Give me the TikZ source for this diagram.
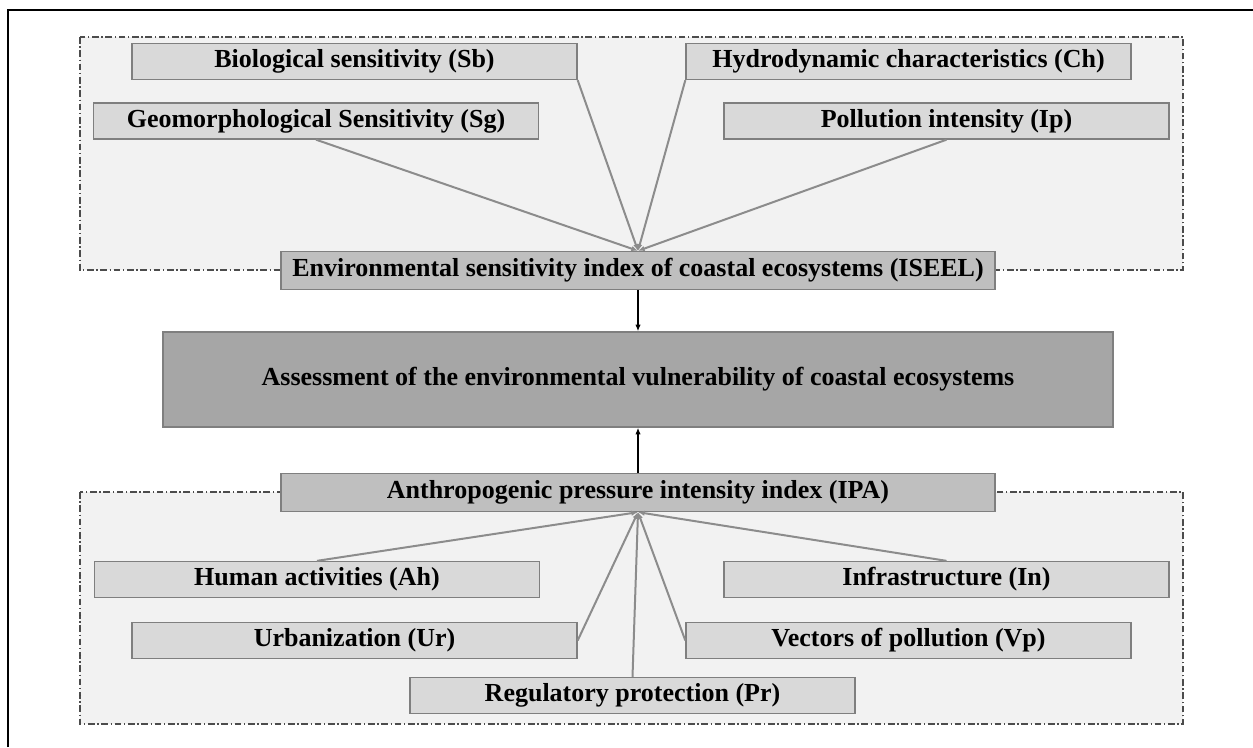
\documentclass[tikz,border=0pt]{standalone}
\usepackage{fontspec}
\setmainfont{Liberation Serif}
\usetikzlibrary{arrows.meta}

\definecolor{framegray}{HTML}{F2F2F2}
\definecolor{factorgray}{HTML}{D9D9D9}
\definecolor{indexgray}{HTML}{BFBFBF}
\definecolor{assessgray}{HTML}{A6A6A6}
\definecolor{edgegray}{HTML}{7F7F7F}
\definecolor{linkgray}{HTML}{8C8C8C}

\tikzset{
  factor/.style={draw=edgegray, line width=1pt, fill=factorgray, inner sep=0pt,
    minimum width=333.75pt, minimum height=27pt,
    font=\bfseries\fontsize{19.5}{22}\selectfont},
  indexbox/.style={factor, fill=indexgray, minimum width=535.5pt, minimum height=28.5pt},
  groupbox/.style={draw=black!70, fill=framegray, line width=0.8pt,
    dash pattern=on 5pt off 2pt on 1pt off 2pt},
  link/.style={draw=linkgray, line width=1.5pt, -{Latex[length=5pt,width=4pt]}},
  mainarrow/.style={draw=black, line width=1pt, -{Latex[length=5pt,width=4pt]}}
}

\begin{document}
\begin{tikzpicture}[x=0.75pt,y=0.75pt,yscale=-1,xscale=1]
\useasboundingbox (0,0) rectangle (1253,747);

%Shape: Frame
\draw [line width=1.5pt] (8,747) -- (8,10) -- (1253,10) ;

%Shape: Group boxes
\draw [groupbox] (80,37) rectangle (1183,270) ;
\draw [groupbox] (80,492) rectangle (1183,724) ;

% Sensitivity factors
\node [factor] (bio) at (354.5,61.5) {Biological sensitivity (Sb)};
\node [factor] (hydro) at (908.5,61.5) {Hydrodynamic characteristics (Ch)};
\node [factor] (geo) at (316,121) {Geomorphological Sensitivity (Sg)};
\node [factor] (poll) at (946.5,121) {Pollution intensity (Ip)};

% Index nodes
\node [indexbox] (iseel) at (638,270.5) {Environmental sensitivity index of coastal ecosystems (ISEEL)};
\node [indexbox] (ipa) at (638,492.5) {Anthropogenic pressure intensity index (IPA)};

% Assessment
\node [factor, fill=assessgray, minimum width=712.5pt, minimum height=71.25pt] (assess) at (638,379.5)
  {Assessment of the environmental vulnerability of coastal ecosystems};

% Pressure factors
\node [factor] (human) at (317,579.5) {Human activities (Ah)};
\node [factor] (infra) at (946.5,579.5) {Infrastructure (In)};
\node [factor] (urb) at (354.5,640.5) {Urbanization (Ur)};
\node [factor] (vect) at (908.5,640.5) {Vectors of pollution (Vp)};
\node [factor] (reg) at (632.5,695.5) {Regulatory protection (Pr)};

% Links to ISEEL
\draw [link] (geo.south) -- (iseel.north);
\draw [link] (bio.south east) -- (iseel.north);
\draw [link] (hydro.south west) -- (iseel.north);
\draw [link] (poll.south) -- (iseel.north);

% Links to IPA
\draw [link] (human.north) -- (ipa.south);
\draw [link] (urb.east) -- (ipa.south);
\draw [link] (reg.north) -- (ipa.south);
\draw [link] (vect.west) -- (ipa.south);
\draw [link] (infra.north) -- (ipa.south);

% Main arrows
\draw [mainarrow] (iseel.south) -- (assess.north);
\draw [mainarrow] (ipa.north) -- (assess.south);

\end{tikzpicture}
\end{document}
